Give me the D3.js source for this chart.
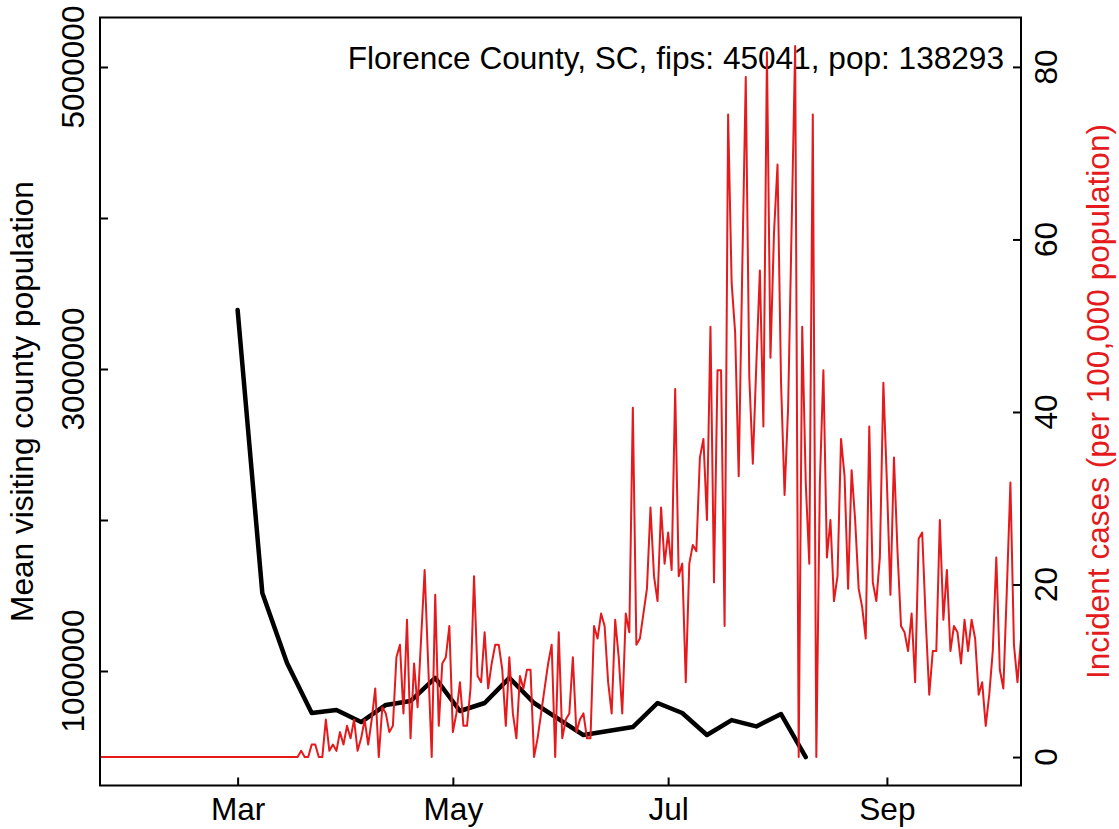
<!DOCTYPE html>
<html>
<head>
<meta charset="utf-8">
<script src="https://cdn.jsdelivr.net/npm/d3@7"></script>
<style>
  body { margin: 0; background: #fff; }
  text { font-family: "Liberation Sans", Arial, Helvetica, sans-serif; }
</style>
</head>
<body>
<svg id="chart" width="1119" height="829"></svg>
<script>
// ---------------- data ----------------
const titleText = "Florence County, SC, fips: 45041, pop: 138293";
const leftAxisTitle = "Mean visiting county population";
const rightAxisTitle = "Incident cases (per 100,000 population)";

// daily incident cases per 100,000, starting 2020-01-22
const caseStart = "2020-01-22";
const caseValues = [
  // Jan 22 - Jan 31
  0,0,0,0,0,0,0,0,0,0,
  // Feb
  0,0,0,0,0,0,0,0,0,0,0,0,0,0,0,0,0,0,0,0,0,0,0,0,0,0,0,0,0,
  // Mar 1 - Mar 18
  0,0,0,0,0,0,0,0,0,0,0,0,0,0,0,0,0,0,
  // Mar 19 - Mar 31
  0.72,0,0,1.45,1.45,0,0,4.34,0.72,1.45,0.72,2.89,1.45,
  // Apr
  3.62,2.17,4.34,0.72,2.17,4.34,1.45,4.34,7.95,0,5.78,5.06,2.89,3.62,11.57,
  13.02,5.06,15.91,2.17,10.85,5.78,13.74,21.69,10.85,0,18.80,3.62,10.85,11.57,15.19,
  // May
  2.89,5.06,8.68,3.62,3.62,7.95,20.97,9.40,8.68,14.46,7.95,10.85,13.02,13.02,10.12,3.62,
  11.57,5.06,2.17,9.40,7.95,10.12,10.12,0,2.17,5.06,7.95,10.85,13.02,0,14.46,
  // Jun
  2.17,4.34,5.06,11.57,2.89,4.34,5.06,2.17,2.17,15.19,13.74,16.63,15.19,8.68,5.06,
  15.91,11.57,5.06,16.63,14.46,40.49,13.02,13.74,16.63,19.52,28.92,20.97,18.08,28.92,22.42,
  // Jul
  26.03,21.69,42.66,20.97,22.42,8.68,22.42,24.59,23.86,34.71,36.88,27.48,49.89,20.25,44.83,44.83,
  15.19,74.48,54.96,49.17,32.54,56.40,78.82,44.11,33.99,45.56,56.40,38.32,81.71,46.28,60.74,
  // Aug
  68.69,43.39,30.37,40.49,61.46,82.43,0,49.89,31.82,22.42,74.48,0,31.82,44.83,23.14,27.48,
  18.08,20.97,36.88,32.54,19.52,33.26,27.48,19.52,17.35,13.74,38.32,20.25,18.08,23.14,43.39,
  // Sep
  31.82,18.80,34.71,23.86,15.19,14.46,12.29,16.63,8.68,25.31,26.03,15.91,7.23,12.29,12.29,
  27.48,15.91,21.69,12.29,15.19,14.46,10.85,15.91,12.29,15.91,13.74,7.23,8.68,3.62,7.23,
  // Oct 1 - Oct 9
  12.29,23.14,10.12,7.95,19.52,31.82,13.02,8.68,13.74
];

// weekly mean visiting county population
const mobilityDates = [
  "2020-03-01","2020-03-08","2020-03-15","2020-03-22","2020-03-29",
  "2020-04-05","2020-04-12","2020-04-19","2020-04-26",
  "2020-05-03","2020-05-10","2020-05-17","2020-05-24","2020-05-31",
  "2020-06-07","2020-06-21","2020-06-28",
  "2020-07-05","2020-07-12","2020-07-19","2020-07-26",
  "2020-08-02","2020-08-09"
];
const mobilityValues = [
  3391000, 1517000, 1053000, 722000, 742000,
  662000, 775000, 801000, 954000,
  735000, 788000, 954000, 788000, 682000,
  576000, 629000, 788000,
  722000, 576000, 675000, 633000,
  715000, 430000
];

const leftTicks = [1000000, 2000000, 3000000, 4000000, 5000000];
const leftTickLabels = ["1000000", "", "3000000", "", "5000000"];
const rightTicks = [0, 20, 40, 60, 80];
const rightTickLabels = ["0", "20", "40", "60", "80"];
const monthTicks = ["2020-03-01", "2020-05-01", "2020-07-01", "2020-09-01"];
const monthLabels = ["Mar", "May", "Jul", "Sep"];

// ---------------- layout ----------------
const W = 1119, H = 829;
const L = 100, R = 1021, T = 17.5, B = 785.5;
const FS = 31.6;
const RED = "#E41A1C";

const parse = d3.utcParse("%Y-%m-%d");
const svg = d3.select("#chart");
svg.append("rect").attr("width", W).attr("height", H).attr("fill", "#fff");

const x = d3.scaleUtc()
  .domain([parse("2020-01-22"), parse("2020-10-09")])
  .range([L, R]);

const yL = d3.scaleLinear().domain([241700, 5327800]).range([B, T]);

const rMax = d3.max(caseValues);
const yR = d3.scaleLinear().domain([-0.04 * rMax, 1.04 * rMax]).range([B, T]);

svg.append("defs").append("clipPath").attr("id", "plotClip")
  .append("rect").attr("x", L).attr("y", T).attr("width", R - L).attr("height", B - T);

// title
svg.append("text")
  .attr("x", 1004).attr("y", 68.5)
  .attr("text-anchor", "end")
  .attr("font-size", FS)
  .attr("fill", "#000")
  .text(titleText);

// black line
const blackData = mobilityDates.map((d, i) => ({ date: parse(d), value: mobilityValues[i] }));
svg.append("path")
  .datum(blackData)
  .attr("clip-path", "url(#plotClip)")
  .attr("fill", "none")
  .attr("stroke", "#000")
  .attr("stroke-width", 4.5)
  .attr("stroke-linejoin", "round")
  .attr("stroke-linecap", "round")
  .attr("d", d3.line().x(d => x(d.date)).y(d => yL(d.value)));

// red line
const start = parse(caseStart);
const redData = caseValues.map((v, i) => ({ date: d3.utcDay.offset(start, i), value: v }));
svg.append("path")
  .datum(redData)
  .attr("clip-path", "url(#plotClip)")
  .attr("fill", "none")
  .attr("stroke", RED)
  .attr("stroke-width", 2)
  .attr("stroke-linejoin", "round")
  .attr("stroke-linecap", "round")
  .attr("d", d3.line().x(d => x(d.date)).y(d => yR(d.value)));

// box
svg.append("rect")
  .attr("x", L).attr("y", T).attr("width", R - L).attr("height", B - T)
  .attr("fill", "none").attr("stroke", "#000").attr("stroke-width", 2);

// bottom axis
const gB = svg.append("g")
  .attr("transform", `translate(0,${B})`)
  .call(d3.axisBottom(x)
    .tickValues(monthTicks.map(parse))
    .tickSize(-8)
    .tickPadding(12.5)
    .tickFormat((d, i) => monthLabels[i]));
gB.select(".domain").remove();
gB.selectAll(".tick line").attr("stroke", "#000").attr("stroke-width", 2);
gB.selectAll(".tick text")
  .attr("font-size", FS)
  .attr("font-family", "'Liberation Sans', Arial, sans-serif")
  .attr("fill", "#000");

// left axis
const gL = svg.append("g")
  .attr("transform", `translate(${L},0)`)
  .call(d3.axisLeft(yL).tickValues(leftTicks).tickSize(-8).tickFormat(""));
gL.select(".domain").remove();
gL.selectAll(".tick line").attr("stroke", "#000").attr("stroke-width", 2);
svg.append("g").selectAll("text")
  .data(leftTicks.map((v, i) => ({ v, label: leftTickLabels[i] })).filter(d => d.label))
  .join("text")
  .attr("transform", d => `translate(84,${yL(d.v)}) rotate(-90)`)
  .attr("text-anchor", "middle")
  .attr("font-size", FS)
  .attr("fill", "#000")
  .text(d => d.label);

// right axis
const gR = svg.append("g")
  .attr("transform", `translate(${R},0)`)
  .call(d3.axisRight(yR).tickValues(rightTicks).tickSize(-8).tickFormat(""));
gR.select(".domain").remove();
gR.selectAll(".tick line").attr("stroke", "#000").attr("stroke-width", 2);
svg.append("g").selectAll("text")
  .data(rightTicks.map((v, i) => ({ v, label: rightTickLabels[i] })))
  .join("text")
  .attr("transform", d => `translate(1057,${yR(d.v)}) rotate(-90)`)
  .attr("text-anchor", "middle")
  .attr("font-size", FS)
  .attr("fill", "#000")
  .text(d => d.label);

// axis titles
const midY = (T + B) / 2;
svg.append("text")
  .attr("transform", `translate(33,${midY}) rotate(-90)`)
  .attr("text-anchor", "middle")
  .attr("font-size", FS)
  .attr("fill", "#000")
  .text(leftAxisTitle);
svg.append("text")
  .attr("transform", `translate(1109,${midY}) rotate(-90)`)
  .attr("text-anchor", "middle")
  .attr("font-size", FS)
  .attr("fill", RED)
  .text(rightAxisTitle);
</script>
</body>
</html>
